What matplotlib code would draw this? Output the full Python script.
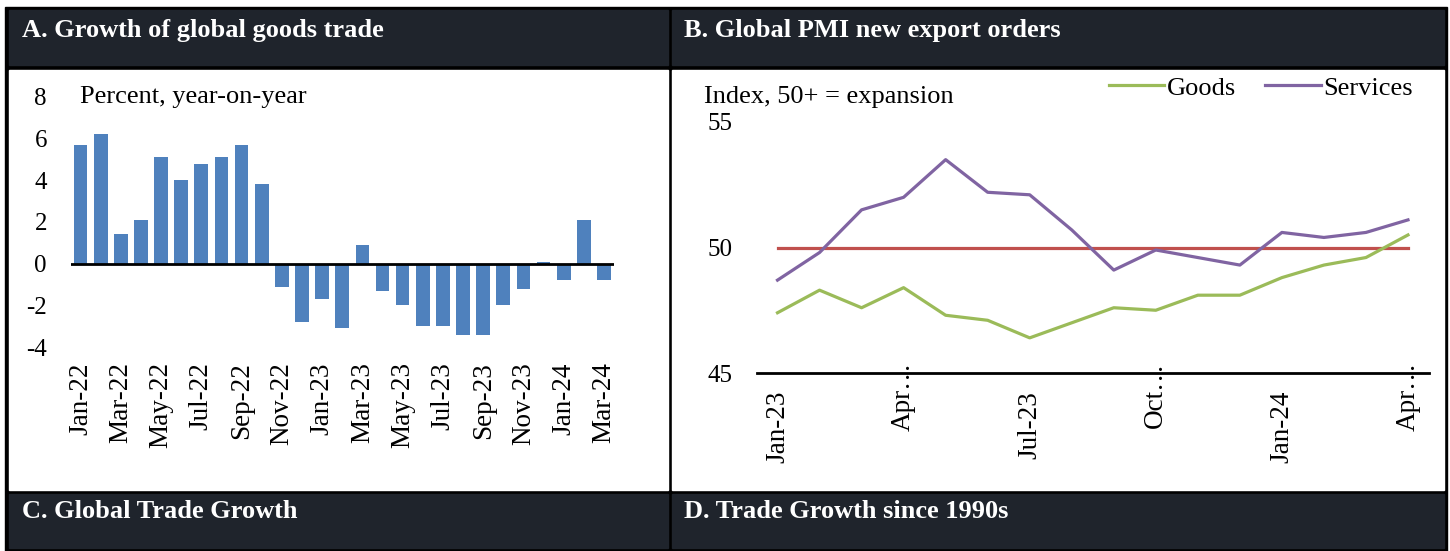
import matplotlib.pyplot as plt
from matplotlib.patches import Rectangle
from matplotlib.transforms import ScaledTranslation

plt.rcParams['font.family'] = ['Liberation Serif', 'DejaVu Serif']

# Panel A data
months_a = ['Jan-22', 'Feb-22', 'Mar-22', 'Apr-22', 'May-22', 'Jun-22', 'Jul-22', 'Aug-22',
            'Sep-22', 'Oct-22', 'Nov-22', 'Dec-22', 'Jan-23', 'Feb-23', 'Mar-23', 'Apr-23',
            'May-23', 'Jun-23', 'Jul-23', 'Aug-23', 'Sep-23', 'Oct-23', 'Nov-23', 'Dec-23',
            'Jan-24', 'Feb-24', 'Mar-24']
trade_growth = [5.7, 6.2, 1.4, 2.1, 5.1, 4.0, 4.8, 5.1, 5.7, 3.8, -1.1, -2.8, -1.7, -3.1, 0.9,
                -1.3, -2.0, -3.0, -3.0, -3.4, -3.4, -2.0, -1.2, 0.06, -0.8, 2.1, -0.8]

# Panel B data
months_b = ['Jan-23', 'Feb-23', 'Mar-23', 'Apr…', 'May-23', 'Jun-23', 'Jul-23', 'Aug-23',
            'Sep-23', 'Oct…', 'Nov-23', 'Dec-23', 'Jan-24', 'Feb-24', 'Mar-24', 'Apr…']
goods = [47.4, 48.3, 47.6, 48.4, 47.3, 47.1, 46.4, 47.0, 47.6, 47.5, 48.1, 48.1, 48.8, 49.3,
         49.6, 50.5]
services = [48.7, 49.8, 51.5, 52.0, 53.5, 52.2, 52.1, 50.7, 49.1, 49.9, 49.6, 49.3, 50.6, 50.4,
            50.6, 51.1]
threshold = 50

W, H = 1450, 551
fig = plt.figure(figsize=(W / 100, H / 100), dpi=100)


def box(x0, y0, x1, y1, color):
    # pixel box, y measured from the top
    fig.patches.append(Rectangle((x0 / W, 1 - y1 / H), (x1 - x0) / W, (y1 - y0) / H,
                                 transform=fig.transFigure, color=color, zorder=-1))


def axes_px(x0, y0, x1, y1):
    return fig.add_axes([x0 / W, 1 - y1 / H, (x1 - x0) / W, (y1 - y0) / H])


dark = '#1f242c'
box(5, 7, 1447, 551, 'black')
box(9, 10, 668, 65, dark)
box(672, 10, 1444, 65, dark)
box(9, 70, 668, 490, 'white')
box(672, 70, 1444, 490, 'white')
box(9, 494, 668, 548, dark)
box(672, 494, 1444, 548, dark)

head = dict(color='white', fontsize=19, fontweight='bold', va='center', ha='left')
fig.text(22 / W, 1 - 30 / H, 'A. Growth of global goods trade', **head)
fig.text(684 / W, 1 - 30 / H, 'B. Global PMI new export orders', **head)
fig.text(22 / W, 1 - 511 / H, 'C. Global Trade Growth', **head)
fig.text(684 / W, 1 - 511 / H, 'D. Trade Growth since 1990s', **head)

# Panel A: bars
ax1 = axes_px(70.5, 97, 614, 347)
ax1.set_facecolor('none')
x = list(range(len(months_a)))
ax1.bar(x, trade_growth, width=0.68, color='#4f81bd', zorder=2)
ax1.axhline(0, color='black', lw=2, zorder=3)
ax1.set_xlim(-0.5, len(months_a) - 0.5)
ax1.set_ylim(-4, 8)
ax1.set_yticks([-4, -2, 0, 2, 4, 6, 8])
ax1.set_yticklabels(['-4', '-2', '0', '2', '4', '6', '8'])
ax1.set_xticks(x[::2])
ax1.set_xticklabels(months_a[::2], rotation=90)
ax1.tick_params(axis='both', length=0, labelsize=18)
ax1.tick_params(axis='y', pad=17)
ax1.tick_params(axis='x', pad=11, labelsize=19.5)
for s in ax1.spines.values():
    s.set_visible(False)
ax1.text(80 / W, 1 - 97 / H, 'Percent, year-on-year', transform=fig.transFigure,
         fontsize=19, va='center', ha='left')

# Panel B: lines
ax2 = axes_px(756.5, 122, 1429, 373)
ax2.set_facecolor('none')
xb = list(range(len(months_b)))
ax2.plot(xb, [threshold] * len(xb), color='#c0504d', lw=2.3, zorder=2)
ax2.plot(xb, goods, color='#9bbb59', lw=2.3, label='Goods', zorder=3)
ax2.plot(xb, services, color='#8064a2', lw=2.3, label='Services', zorder=3)
ax2.set_xlim(-0.5, len(months_b) - 0.5)
ax2.set_ylim(45, 55)
ax2.set_yticks([45, 50, 55])
ax2.set_xticks(xb[::3])
ax2.set_xticklabels(months_b[::3], rotation=90)
ax2.tick_params(axis='both', length=0, labelsize=18)
ax2.tick_params(axis='y', pad=17)
ax2.tick_params(axis='x', pad=13, labelsize=19.5)
for k in ['top', 'right', 'left']:
    ax2.spines[k].set_visible(False)
ax2.spines['bottom'].set_linewidth(2)
ax2.spines['bottom'].set_zorder(1)
# truncated labels sit higher, over the axis line
for lab in ax2.get_xticklabels():
    if lab.get_text().endswith('…'):
        lab.set_transform(lab.get_transform() + ScaledTranslation(0, 0.29, fig.dpi_scale_trans))
ax2.text(704 / W, 1 - 97 / H, 'Index, 50+ = expansion', transform=fig.transFigure,
         fontsize=19, va='center', ha='left')
ax2.legend(loc='center right', bbox_to_anchor=(1413 / W, 1 - 88 / H),
           bbox_transform=fig.transFigure, ncol=2, frameon=False, fontsize=19,
           handlelength=2.1, handletextpad=0.1, columnspacing=1.1, borderpad=0,
           borderaxespad=0)

fig.savefig('out.png', dpi=100)
